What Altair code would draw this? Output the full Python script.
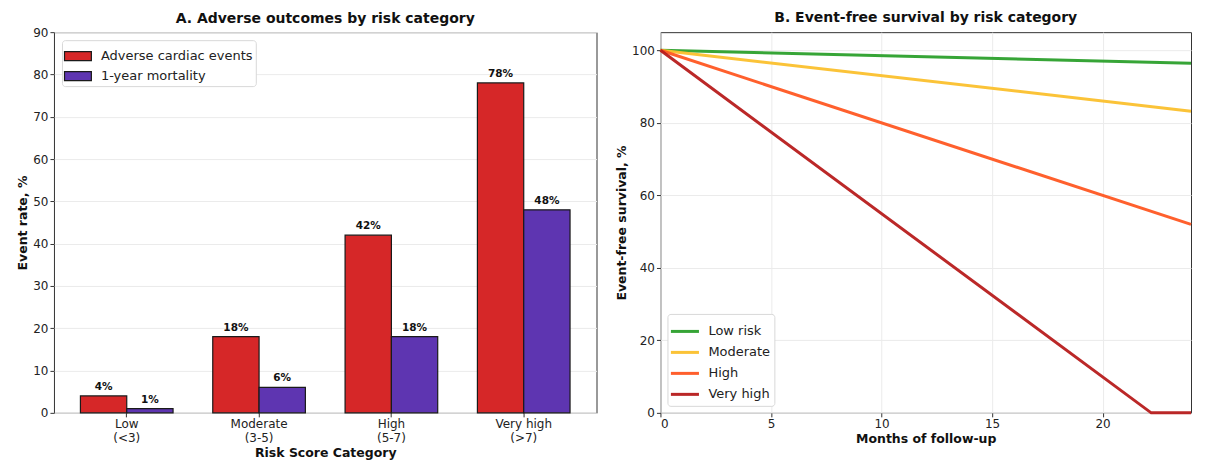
import altair as alt
import pandas as pd

# ---- Panel A data ----
categories = ["Low\n(<3)", "Moderate\n(3-5)", "High\n(5-7)", "Very high\n(>7)"]
series_names = ["Adverse cardiac events", "1-year mortality"]
adverse = [4, 18, 42, 78]
mortality = [1, 6, 18, 48]
bar_colors = ["#d62728", "#5e35b1"]

# ---- Panel B data ----
risk_names = ["Low risk", "Moderate", "High", "Very high"]
months_low = [0, 24]
surv_low = [100, 96.4]
months_mod = [0, 24]
surv_mod = [100, 83.2]
months_high = [0, 24]
surv_high = [100, 52]
months_vhigh = [0, 22.2, 24]
surv_vhigh = [100, 0, 0]
line_colors = ["#2ca02c", "#fbc02d", "#ff5722", "#b71c1c"]

rows = []
for c, a, m in zip(categories, adverse, mortality):
    rows.append({"cat": c, "series": series_names[0], "value": a})
    rows.append({"cat": c, "series": series_names[1], "value": m})
bars_df = pd.DataFrame(rows)
bars_df["label"] = bars_df["value"].astype(int).astype(str) + "%"

lrows = []
for name, ms, vs in zip(risk_names,
                        [months_low, months_mod, months_high, months_vhigh],
                        [surv_low, surv_mod, surv_high, surv_vhigh]):
    for i, (mo, v) in enumerate(zip(ms, vs)):
        lrows.append({"risk": name, "month": mo, "surv": v, "order": i})
lines_df = pd.DataFrame(lrows)

FONT = "DejaVu Sans"
W1, W2, H = 543, 531, 381

x_enc = alt.X("cat:N", sort=categories,
              scale=alt.Scale(paddingInner=0.3, paddingOuter=0.2),
              axis=alt.Axis(title="Risk Score Category", labelAngle=0,
                            labelExpr="split(datum.label, '\\n')",
                            labelLineHeight=14, grid=False, domain=False))
xoff = alt.XOffset("series:N", sort=series_names,
                   scale=alt.Scale(paddingInner=0, paddingOuter=0))
y_enc = alt.Y("value:Q", scale=alt.Scale(domain=[0, 90], nice=False),
              axis=alt.Axis(title="Event rate, %", values=list(range(0, 91, 10)),
                            grid=True, domain=False))

bars = alt.Chart(bars_df).mark_bar(stroke="#1a1a1a", strokeWidth=1.2).encode(
    x=x_enc, xOffset=xoff, y=y_enc,
    color=alt.Color("series:N", sort=series_names,
                    scale=alt.Scale(domain=series_names, range=bar_colors),
                    legend=alt.Legend(title=None, orient="top-left", offset=8,
                                      fillColor="white", strokeColor="#d8d8d8",
                                      cornerRadius=3, padding=3,
                                      symbolType="M-1.12,-0.37H1.12V0.37H-1.12Z",
                                      symbolSize=576, symbolStrokeColor="#1a1a1a",
                                      symbolStrokeWidth=1.2, symbolOpacity=1,
                                      labelOffset=10,
                                      labelFontSize=13, labelFont=FONT,
                                      labelColor="#222", rowPadding=0)),
)
texts = alt.Chart(bars_df).mark_text(baseline="bottom", dy=-4, fontSize=10.5,
                                     fontWeight="bold", font=FONT, color="#111").encode(
    x=alt.X("cat:N", sort=categories), xOffset=xoff, y=alt.Y("value:Q"),
    text="label:N",
)
left = alt.layer(bars, texts).properties(
    width=W1, height=H,
    title=alt.Title("A. Adverse outcomes by risk category", fontSize=14,
                    fontWeight="bold", font=FONT, anchor="middle", frame="group",
                    offset=0, color="#111"),
)

lines = alt.Chart(lines_df).mark_line(strokeWidth=3, opacity=0.95).encode(
    x=alt.X("month:Q", scale=alt.Scale(domain=[0, 24], nice=False),
            axis=alt.Axis(title="Months of follow-up", values=[0, 5, 10, 15, 20],
                          grid=True, domain=False)),
    y=alt.Y("surv:Q", scale=alt.Scale(domain=[0, 105], nice=False),
            axis=alt.Axis(title="Event-free survival, %", values=[0, 20, 40, 60, 80, 100],
                          grid=True, domain=False)),
    color=alt.Color("risk:N", sort=risk_names,
                    scale=alt.Scale(domain=risk_names, range=line_colors),
                    legend=alt.Legend(title=None, orient="bottom-left", offset=7,
                                      fillColor="white", strokeColor="#d8d8d8",
                                      cornerRadius=3, padding=4,
                                      symbolType="M-1.17,0H1.17", symbolSize=576,
                                      symbolStrokeWidth=3, labelOffset=10,
                                      labelFontSize=13, labelFont=FONT,
                                      labelColor="#222", rowPadding=0)),
    order="order:Q",
    detail="risk:N",
).properties(
    width=W2, height=H,
    title=alt.Title("B. Event-free survival by risk category", fontSize=14,
                    fontWeight="bold", font=FONT, anchor="middle", frame="group",
                    offset=7, color="#111"),
)

chart = alt.hconcat(left, lines, spacing=17).resolve_scale(color="independent").properties(
    padding={"left": 8, "top": 2, "right": 0, "bottom": 0}
).configure_view(stroke="#333", strokeWidth=1).configure_axis(
    labelFont=FONT, titleFont=FONT, labelFontSize=12, titleFontSize=12.5,
    titleFontWeight="bold", labelColor="#222", titleColor="#111",
    tickColor="#333", tickSize=4, gridColor="#ebebeb", gridWidth=1,
    labelPadding=2, titlePadding=3,
)

chart.save("out.html", embed_options={"renderer": "svg", "actions": False})
